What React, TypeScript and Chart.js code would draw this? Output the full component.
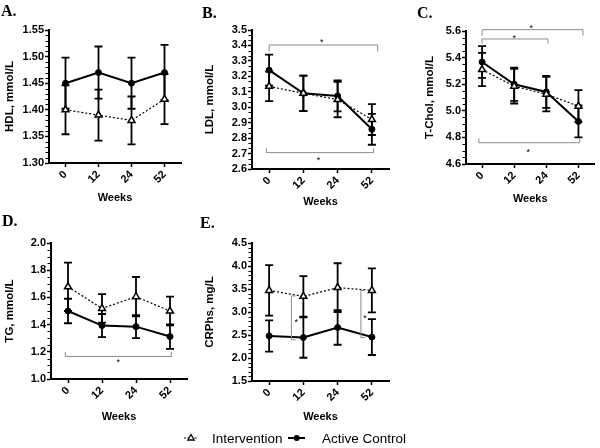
import React, { useEffect, useRef } from 'react';
import { Chart, registerables } from 'chart.js';

Chart.register(...registerables);

const SANS = "'Liberation Sans', Arial, Helvetica, sans-serif";
const SERIF = "'Liberation Serif', 'Times New Roman', serif";

// ---------- data ----------
const weeks = ['0', '12', '24', '52'];
const seriesNames = ['Intervention', 'Active Control'];

// A. HDL
const hdlIntervention = [1.40, 1.39, 1.38, 1.42];
const hdlInterventionErr = [0.046, 0.048, 0.045, 0.047];
const hdlControl = [1.45, 1.47, 1.45, 1.47];
const hdlControlErr = [0.048, 0.049, 0.048, 0.052];

// B. LDL
const ldlIntervention = [3.135, 3.09, 3.05, 2.92];
const ldlInterventionErr = [0.095, 0.115, 0.115, 0.10];
const ldlControl = [3.24, 3.09, 3.073, 2.857];
const ldlControlErr = [0.10, 0.115, 0.10, 0.10];

// C. T-Chol
const tcIntervention = [5.31, 5.185, 5.125, 5.035];
const tcInterventionErr = [0.125, 0.13, 0.13, 0.12];
const tcControl = [5.367, 5.20, 5.142, 4.92];
const tcControlErr = [0.12, 0.125, 0.12, 0.12];

// D. TG
const tgIntervention = [1.678, 1.519, 1.605, 1.50];
const tgInterventionErr = [0.178, 0.105, 0.145, 0.105];
const tgControl = [1.50, 1.393, 1.385, 1.312];
const tgControlErr = [0.09, 0.085, 0.085, 0.09];

// E. CRPhs
const crpIntervention = [3.47, 3.34, 3.53, 3.47];
const crpInterventionErr = [0.55, 0.44, 0.53, 0.48];
const crpControl = [2.48, 2.445, 2.663, 2.455];
const crpControlErr = [0.34, 0.44, 0.375, 0.39];

// significance brackets (category index / axis value)
type Bracket = { orient: 'h' | 'v'; a: number; b: number; pos: number; tip: number; starX: number; starY: number };
const bracketsA: Bracket[] = [];
const bracketsB: Bracket[] = [
  { orient: 'h', a: 0, b: 3.17, pos: 3.403, tip: 3.36, starX: 1.54, starY: 3.435 },
  { orient: 'h', a: -0.08, b: 3.05, pos: 2.706, tip: 2.734, starX: 1.44, starY: 2.672 },
];
const bracketsC: Bracket[] = [
  { orient: 'h', a: 0, b: 3.14, pos: 5.61, tip: 5.565, starX: 1.53, starY: 5.64 },
  { orient: 'h', a: 0, b: 2.05, pos: 5.54, tip: 5.505, starX: 1.0, starY: 5.565 },
  { orient: 'h', a: -0.1, b: 3.04, pos: 4.76, tip: 4.792, starX: 1.44, starY: 4.71 },
];
const bracketsD: Bracket[] = [
  { orient: 'h', a: -0.08, b: 3.04, pos: 1.166, tip: 1.198, starX: 1.48, starY: 1.14 },
];
const bracketsE: Bracket[] = [
  { orient: 'v', a: 3.35, b: 2.396, pos: 0.65, tip: 0.77, starX: 0.79, starY: 2.833 },
  { orient: 'v', a: 3.47, b: 2.445, pos: 2.68, tip: 2.8, starX: 2.8, starY: 2.907 },
];

// ---------- layout ----------
type Panel = {
  key: string; letter: string; letterX: number; letterY: number; yTitle: string;
  left: number; top: number; width: number; height: number;
  area: { l: number; t: number; r: number; b: number };
  yTitleX: number; xTitleY: number;
  min: number; max: number; step: number; decimals: number; minorDivs: number;
  iv: number[]; ivErr: number[]; ct: number[]; ctErr: number[]; brackets: Bracket[];
};

const panels: Panel[] = [
  { key: 'A', letter: 'A.', letterX: 1, letterY: 3, yTitle: 'HDL, mmol/L', left: 0, top: 0, width: 195, height: 210,
    area: { l: 49, t: 30, r: 181, b: 163 }, yTitleX: 10, xTitleY: 198,
    min: 1.30, max: 1.55, step: 0.05, decimals: 2, minorDivs: 5,
    iv: hdlIntervention, ivErr: hdlInterventionErr, ct: hdlControl, ctErr: hdlControlErr, brackets: bracketsA },
  { key: 'B', letter: 'B.', letterX: 202, letterY: 5, yTitle: 'LDL, mmol/L', left: 195, top: 0, width: 200, height: 210,
    area: { l: 252, t: 30, r: 389, b: 169 }, yTitleX: 210, xTitleY: 202,
    min: 2.6, max: 3.5, step: 0.1, decimals: 1, minorDivs: 3,
    iv: ldlIntervention, ivErr: ldlInterventionErr, ct: ldlControl, ctErr: ldlControlErr, brackets: bracketsB },
  { key: 'C', letter: 'C.', letterX: 417, letterY: 5, yTitle: 'T-Chol, mmol/L', left: 390, top: 0, width: 210, height: 210,
    area: { l: 466, t: 31, r: 600, b: 164 }, yTitleX: 430, xTitleY: 199,
    min: 4.6, max: 5.6, step: 0.2, decimals: 1, minorDivs: 4,
    iv: tcIntervention, ivErr: tcInterventionErr, ct: tcControl, ctErr: tcControlErr, brackets: bracketsC },
  { key: 'D', letter: 'D.', letterX: 2, letterY: 213, yTitle: 'TG, mmol/L', left: 0, top: 210, width: 195, height: 238,
    area: { l: 51, t: 243, r: 187, b: 379 }, yTitleX: 10, xTitleY: 417,
    min: 1.0, max: 2.0, step: 0.2, decimals: 1, minorDivs: 4,
    iv: tgIntervention, ivErr: tgInterventionErr, ct: tgControl, ctErr: tgControlErr, brackets: bracketsD },
  { key: 'E', letter: 'E.', letterX: 200, letterY: 215, yTitle: 'CRPhs, mg/L', left: 195, top: 210, width: 200, height: 238,
    area: { l: 252, t: 243, r: 389, b: 381 }, yTitleX: 210, xTitleY: 417,
    min: 1.5, max: 4.5, step: 0.5, decimals: 1, minorDivs: 5,
    iv: crpIntervention, ivErr: crpInterventionErr, ct: crpControl, ctErr: crpControlErr, brackets: bracketsE },
];

const TICK_SIZE = 11;
const YTITLE_SIZE = 11.5;
const XTITLE_SIZE = 11;

function makePlugin(p: Panel) {
  return {
    id: 'annot' + p.key,
    beforeDatasetsDraw(chart: any) {
      const { ctx } = chart;
      const xs = chart.scales.x;
      const ys = chart.scales.y;
      ctx.save();
      ctx.strokeStyle = '#000';
      ctx.lineWidth = 1.8;
      const sets: [number[], number[]][] = [[p.iv, p.ivErr], [p.ct, p.ctErr]];
      sets.forEach(([vals, errs]) => {
        vals.forEach((v, i) => {
          const px = xs.getPixelForValue(i);
          const top = ys.getPixelForValue(v + errs[i]);
          const bot = ys.getPixelForValue(v - errs[i]);
          ctx.beginPath();
          ctx.moveTo(px, top); ctx.lineTo(px, bot);
          ctx.moveTo(px - 4, top); ctx.lineTo(px + 4, top);
          ctx.moveTo(px - 4, bot); ctx.lineTo(px + 4, bot);
          ctx.stroke();
        });
      });
      ctx.restore();
    },
    afterDraw(chart: any) {
      const { ctx, chartArea } = chart;
      const xs = chart.scales.x;
      const ys = chart.scales.y;
      ctx.save();
      // minor ticks on y axis
      ctx.strokeStyle = '#000';
      ctx.lineWidth = 1;
      const n = Math.round((p.max - p.min) / p.step) * p.minorDivs;
      for (let k = 0; k <= n; k++) {
        if (k % p.minorDivs === 0) continue;
        const v = p.min + (k * p.step) / p.minorDivs;
        const py = Math.round(ys.getPixelForValue(v)) + 0.5;
        ctx.beginPath();
        ctx.moveTo(chartArea.left - 3.5, py);
        ctx.lineTo(chartArea.left, py);
        ctx.stroke();
      }
      // brackets
      p.brackets.forEach((b) => {
        ctx.strokeStyle = '#8a8a8a';
        ctx.lineWidth = 1;
        ctx.beginPath();
        if (b.orient === 'h') {
          const x1 = xs.getPixelForValue(b.a);
          const x2 = xs.getPixelForValue(b.b);
          const y = ys.getPixelForValue(b.pos);
          const yt = ys.getPixelForValue(b.tip);
          ctx.moveTo(x1, yt); ctx.lineTo(x1, y); ctx.lineTo(x2, y); ctx.lineTo(x2, yt);
        } else {
          const x = xs.getPixelForValue(b.pos);
          const xt = xs.getPixelForValue(b.tip);
          const y1 = ys.getPixelForValue(b.a);
          const y2 = ys.getPixelForValue(b.b);
          ctx.moveTo(xt, y1); ctx.lineTo(x, y1); ctx.lineTo(x, y2); ctx.lineTo(xt, y2);
        }
        ctx.stroke();
        ctx.fillStyle = '#000';
        ctx.font = `9px ${SANS}`;
        ctx.textAlign = 'center';
        ctx.textBaseline = 'alphabetic';
        ctx.fillText('*', xs.getPixelForValue(b.starX), ys.getPixelForValue(b.starY) + 5.2);
      });
      ctx.restore();
    },
  };
}

function buildConfig(p: Panel): any {
  const yWidth = p.area.l - p.left;
  const padTop = p.area.t - p.top;
  const padRight = p.left + p.width - p.area.r;
  const xHeight = p.top + p.height - p.area.b;
  const yTitlePad = p.yTitleX - p.left - (YTITLE_SIZE * 1.2) / 2;
  const xTitlePad = p.top + p.height - p.xTitleY - (XTITLE_SIZE * 1.2) / 2;
  const tickFont = { family: SANS, size: TICK_SIZE, weight: 'bold' };
  return {
    type: 'line',
    data: {
      labels: weeks,
      datasets: [
        {
          label: seriesNames[0], data: p.iv,
          borderColor: '#000', borderWidth: 1.2, borderDash: [2, 2],
          pointStyle: 'triangle', pointRadius: 4, pointBackgroundColor: '#fff',
          pointBorderColor: '#000', pointBorderWidth: 1.5, fill: false, tension: 0,
        },
        {
          label: seriesNames[1], data: p.ct,
          borderColor: '#000', borderWidth: 2,
          pointStyle: 'circle', pointRadius: 3, pointBackgroundColor: '#000',
          pointBorderColor: '#000', pointBorderWidth: 1, fill: false, tension: 0,
        },
      ],
    },
    options: {
      responsive: false,
      animation: false,
      events: [],
      layout: { padding: { left: 0, top: padTop, right: padRight, bottom: 0 } },
      plugins: { legend: { display: false }, tooltip: { enabled: false }, title: { display: false } },
      scales: {
        x: {
          type: 'category',
          offset: true,
          grid: { display: true, drawOnChartArea: false, drawTicks: true, tickLength: 4, tickWidth: 1.5, tickColor: '#000', offset: false },
          border: { display: true, color: '#000', width: 2 },
          ticks: { color: '#000', font: tickFont, minRotation: 45, maxRotation: 45, padding: 1, autoSkip: false },
          title: {
            display: true, text: 'Weeks', color: '#000',
            font: { family: SANS, size: XTITLE_SIZE, weight: 'bold' },
            padding: { top: 0, bottom: xTitlePad },
          },
          afterFit: (s: any) => { s.height = xHeight; },
        },
        y: {
          min: p.min, max: p.max,
          grid: { display: true, drawOnChartArea: false, drawTicks: true, tickLength: 4, tickWidth: 1.5, tickColor: '#000' },
          border: { display: true, color: '#000', width: 2 },
          ticks: {
            stepSize: p.step, autoSkip: false, color: '#000', font: tickFont, padding: 1,
            callback: (v: any) => Number(v).toFixed(p.decimals),
          },
          title: {
            display: true, text: p.yTitle, color: '#000',
            font: { family: SANS, size: YTITLE_SIZE, weight: 'bold' },
            padding: { top: yTitlePad, bottom: 0 },
          },
          afterFit: (s: any) => { s.width = yWidth; },
        },
      },
    },
    plugins: [makePlugin(p)],
  };
}

function PanelChart({ p }: { p: Panel }) {
  const ref = useRef<HTMLCanvasElement>(null);
  useEffect(() => {
    const chart = new Chart(ref.current as HTMLCanvasElement, buildConfig(p));
    return () => chart.destroy();
  }, [p]);
  return (
    <canvas
      ref={ref}
      width={p.width}
      height={p.height}
      style={{ position: 'absolute', left: p.left, top: p.top, width: p.width, height: p.height }}
    />
  );
}

export default function App() {
  return (
    <div style={{ position: 'absolute', left: 0, top: 0, width: 600, height: 448, background: '#fff', overflow: 'hidden' }}>
      {panels.map((p) => <PanelChart key={p.key} p={p} />)}
      {panels.map((p) => (
        <div key={'L' + p.key} style={{ position: 'absolute', left: p.letterX, top: p.letterY, font: `bold 16px/16px ${SERIF}`, color: '#000', whiteSpace: 'nowrap' }}>
          {p.letter}
        </div>
      ))}
      <svg style={{ position: 'absolute', left: 183, top: 432 }} width="16" height="12">
        <line x1="1" y1="6" x2="15" y2="6" stroke="#000" strokeWidth="1.2" strokeDasharray="2 1.5" />
        <polygon points="8,2.5 11.2,8 4.8,8" fill="#fff" stroke="#000" strokeWidth="1.3" />
      </svg>
      <div style={{ position: 'absolute', left: 212, top: 430.6, font: `13.5px/16px ${SANS}`, color: '#000', whiteSpace: 'nowrap' }}>
        {seriesNames[0]}
      </div>
      <svg style={{ position: 'absolute', left: 286, top: 432 }} width="21" height="12">
        <line x1="2" y1="6" x2="19" y2="6" stroke="#000" strokeWidth="2" />
        <circle cx="10.7" cy="6" r="3" fill="#000" />
      </svg>
      <div style={{ position: 'absolute', left: 322, top: 430.6, font: `13.5px/16px ${SANS}`, color: '#000', whiteSpace: 'nowrap' }}>
        {seriesNames[1]}
      </div>
    </div>
  );
}
